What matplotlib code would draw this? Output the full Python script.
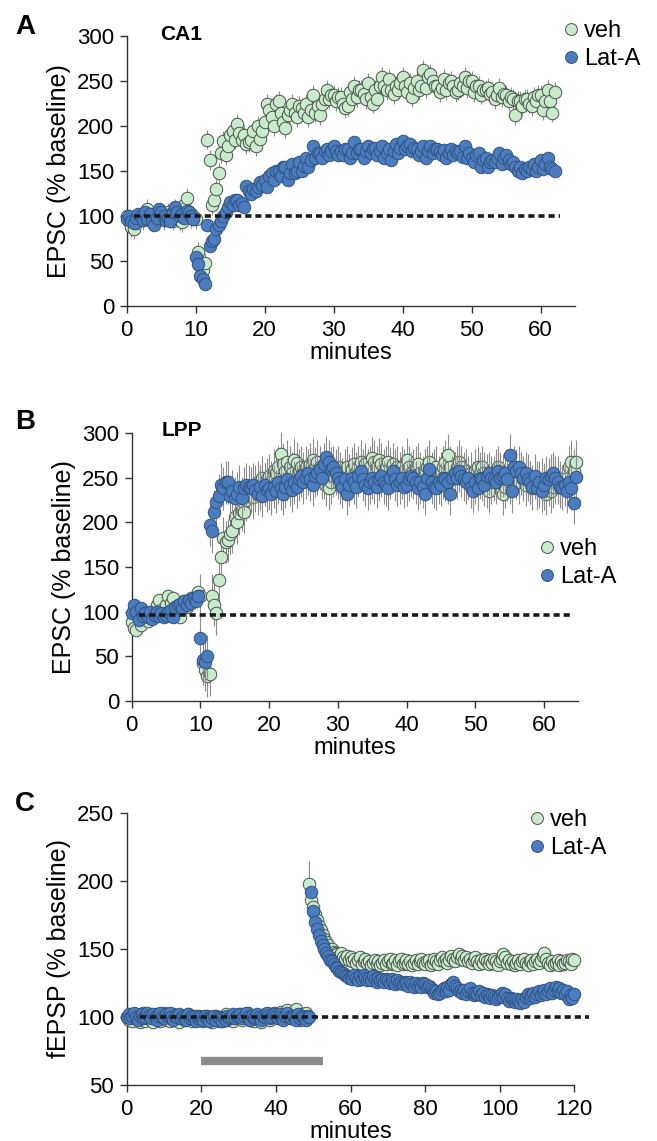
import numpy as np
import matplotlib
matplotlib.use("Agg")
import matplotlib.pyplot as plt

plt.rcParams['font.family'] = ['Liberation Sans', 'DejaVu Sans']

# ---- panel A: CA1, EPSC (% baseline), sampled every 20 s ----
a_veh = [
    100, 95, 88,   86, 92, 97,    100, 96, 104,  108, 98, 94,   99, 103, 97,
    102, 96, 100,  104, 98, 95,   108, 100, 96,  93, 112, 120,  104, 98, 100,
    97, 60, 45,    40, 48, 185,   162, 112, 118, 130, 148, 170, 183, 168, 178,
    190, 195, 185, 202, 192, 185, 190, 180, 182, 185, 195, 178, 200, 186, 195,
    205, 225, 218, 210, 200, 225, 228, 215, 205, 198, 212, 218, 225, 215, 210,
    222, 220, 215, 225, 210, 218, 235, 215, 222, 212, 225, 230, 240, 230, 235,
    235, 228, 232, 232, 225, 220, 222, 238, 230, 245, 232, 240, 240, 236, 230,
    248, 232, 225, 240, 230, 245, 255, 245, 240, 252, 240, 236, 245, 240, 248,
    255, 245, 238, 248, 232, 242, 250, 240, 245, 262, 242, 255, 258, 250, 245,
    245, 238, 242, 252, 240, 248, 250, 245, 238, 240, 248, 244, 255, 242, 250,
    250, 238, 245, 245, 235, 240, 240, 242, 236, 238, 230, 235, 242, 232, 236,
    235, 228, 232, 230, 212, 228, 228, 222, 230, 230, 225, 222, 232, 228, 235,
    235, 218, 228, 240, 228, 215, 238,
]
a_lat = [
    97, 100, 94,   92, 98, 102,   100, 96, 104,  97, 102, 94,   90, 98, 108,
    105, 100, 96,  98, 94, 104,   110, 105, 100, 102, 98, 106,  105, 100, 97,
    55, 47, 33,    30, 24, 90,    67, 72, 75,    86, 90, 94,    100, 105, 110,
    116, 112, 118, 118, 112, 115, 110, 133, 128, 125, 130, 128, 132, 138, 135,
    140, 132, 145, 148, 140, 150, 150, 145, 155, 155, 140, 148, 158, 148, 150,
    160, 150, 156, 165, 155, 162, 178, 165, 170, 170, 165, 172, 175, 168, 172,
    178, 172, 168, 172, 168, 175, 175, 165, 170, 182, 170, 175, 175, 165, 172,
    178, 170, 174, 176, 168, 172, 178, 165, 170, 175, 162, 172, 180, 170, 176,
    183, 175, 178, 180, 172, 176, 175, 168, 172, 178, 165, 172, 178, 170, 174,
    175, 172, 168, 173, 165, 170, 175, 168, 172, 170, 172, 166, 178, 165, 170,
    165, 160, 168, 170, 155, 162, 165, 155, 160, 162, 160, 165, 170, 158, 165,
    168, 162, 158, 160, 155, 150, 155, 148, 152, 150, 155, 152, 158, 150, 154,
    162, 152, 158, 165, 155, 152, 150,
]
a_sem_veh = 11
a_sem_lat = 5

# ---- panel B: LPP, EPSC (% baseline), sampled every 20 s ----
b_veh = [
    88, 82, 80,    92, 85, 95,    98, 90, 95,    100, 96, 108,  113, 102, 98,
    108, 117, 110, 115, 104, 98,  94, 108, 112,  105, 110, 115, 112, 118, 122,
    118, 42, 35,   28, 30, 118,   108, 98, 135,  161, 182, 178, 180, 187, 190,
    206, 200, 210, 214, 212, 225, 230, 235, 228, 240, 245, 238, 250, 242, 248,
    252, 245, 258, 255, 262, 277, 265, 258, 268, 262, 255, 270, 266, 258, 262,
    255, 262, 258, 265, 270, 260, 268, 262, 255, 250, 242, 238, 245, 252, 258,
    262, 255, 248, 258, 262, 252, 260, 265, 255, 262, 268, 258, 265, 258, 262,
    272, 268, 262, 270, 265, 258, 262, 268, 260, 265, 258, 262, 255, 262, 258,
    270, 262, 255, 258, 262, 265, 255, 250, 258, 262, 268, 255, 258, 262, 250,
    255, 262, 268, 275, 262, 250, 255, 262, 268, 262, 255, 258, 250, 255, 245,
    258, 262, 255, 262, 255, 240, 235, 245, 250, 258, 262, 255, 232, 240, 250,
    245, 255, 262, 250, 245, 255, 248, 242, 252, 245, 238, 250, 245, 240, 248,
    238, 232, 242, 235, 240, 245, 250, 245, 240, 245, 250, 262, 268, 258, 268,
]
b_lat = [
    98, 108, 100,  91, 104, 95,   98, 94, 100,   92, 96, 100,   95, 98, 94,
    96, 100, 102,  94, 105, 108,  109, 104, 112, 108, 113, 110, 115, 112, 117,
    70, 46, 44,    50, 197, 190,  212, 223, 230, 242, 238, 245, 245, 229, 235,
    227, 232, 240, 227, 238, 242, 240, 238, 242, 236, 232, 240, 230, 242, 236,
    238, 232, 240, 235, 245, 238, 232, 240, 248, 242, 236, 245, 240, 248, 252,
    245, 250, 255, 248, 242, 252, 255, 260, 250, 265, 273, 268, 260, 262, 255,
    250, 245, 240, 248, 232, 242, 250, 245, 240, 252, 258, 248, 242, 238, 245,
    250, 245, 240, 248, 252, 245, 242, 238, 250, 258, 248, 242, 245, 250, 240,
    242, 248, 252, 250, 245, 238, 245, 240, 232, 250, 260, 245, 240, 238, 245,
    242, 250, 248, 245, 232, 250, 255, 250, 258, 252, 248, 245, 250, 240, 235,
    245, 238, 250, 248, 242, 252, 255, 250, 248, 245, 258, 250, 252, 255, 248,
    275, 235, 262, 258, 262, 255, 250, 255, 248, 245, 240, 252, 238, 245, 235,
    242, 250, 248, 252, 255, 250, 245, 240, 238, 242, 235, 245, 238, 222, 251,
]
b_sem_base = 6
b_sem_post = 24

# ---- panel C: fEPSP (% baseline), sampled every 30 s ----
c_veh = [
    100, 98, 101, 97, 99, 102, 98, 96, 100, 103,
    97, 99, 101, 98, 96, 100, 102, 99, 97, 101,
    103, 98, 100, 97, 99, 102, 100, 98, 96, 99,
    101, 98, 100, 102, 99, 97, 100, 101, 98, 99,
    100, 97, 99, 101, 98, 100, 96, 99, 101, 98,
    97, 100, 99, 102, 98, 100, 101, 97, 99, 100,
    102, 99, 98, 101, 100, 103, 98, 100, 97, 99,
    101, 98, 96, 100, 102, 99, 101, 98, 100, 103,
    100, 102, 99, 104, 101, 100, 105, 102, 99, 101,
    104, 106, 100, 98, 102, 99, 103, 100, 198, 186,
    181, 176, 171, 167, 164, 160, 157, 155, 153, 150,
    150, 148, 147, 146, 145, 147, 144, 143, 145, 142,
    144, 141, 143, 140, 142, 144, 139, 141, 143, 140,
    141, 138, 140, 142, 139, 141, 138, 140, 142, 139,
    141, 143, 139, 140, 142, 138, 141, 143, 139, 140,
    142, 139, 141, 138, 140, 142, 139, 141, 143, 140,
    139, 141, 142, 138, 140, 143, 141, 139, 142, 144,
    141, 143, 140, 142, 145, 143, 141, 144, 146, 143,
    145, 142, 144, 141, 143, 140, 142, 144, 141, 139,
    142, 140, 143, 141, 139, 142, 140, 143, 141, 138,
    141, 143, 146, 144, 140, 142, 139, 141, 138, 140,
    142, 139, 141, 143, 140, 138, 141, 142, 139, 141,
    143, 140, 142, 145, 147, 143, 140, 138, 141, 139,
    140, 142, 138, 141, 139, 140, 142, 141, 139, 143,
    142,
]
c_lat = [
    100, 102, 99, 101, 103, 100, 98, 101, 102, 99,
    100, 103, 101, 99, 102, 100, 98, 101, 103, 100,
    99, 102, 101, 103, 100, 98, 101, 100, 102, 99,
    101, 100, 98, 102, 99, 101, 100, 97, 99, 101,
    100, 98, 101, 99, 97, 100, 99, 101, 98, 100,
    99, 97, 100, 98, 101, 99, 100, 102, 99, 101,
    100, 102, 99, 101, 103, 100, 98, 101, 99, 100,
    102, 100, 98, 101, 100, 103, 101, 99, 100, 102,
    101, 99, 102, 100, 98, 101, 103, 100, 99, 101,
    100, 98, 102, 99, 101, 100, 98, 101, 100, 192,
    178, 170, 165, 160, 156, 153, 150, 147, 145, 142,
    141, 139, 137, 136, 134, 133, 132, 131, 130, 129,
    130, 128, 131, 129, 127, 130, 128, 131, 129, 127,
    129, 127, 130, 128, 126, 129, 127, 128, 126, 128,
    127, 125, 128, 126, 124, 127, 125, 126, 124, 126,
    125, 123, 126, 124, 122, 125, 123, 124, 122, 125,
    124, 122, 123, 121, 120, 118, 119, 117, 118, 120,
    121, 119, 122, 120, 124, 126, 123, 121, 119, 120,
    118, 120, 117, 119, 121, 118, 116, 118, 117, 119,
    116, 118, 115, 117, 116, 114, 116, 115, 113, 115,
    116, 118, 115, 117, 114, 112, 114, 113, 111, 113,
    112, 110, 113, 111, 115, 117, 114, 116, 118, 115,
    117, 119, 116, 118, 120, 117, 119, 121, 118, 120,
    122, 119, 121, 118, 120, 117, 119, 113, 116, 114,
    117,
]
c_sem = 3
c_sem_peak = 17

VEH_FACE = '#c8ebcb'
VEH_EDGE = '#4a524c'
LAT_FACE = '#4a7cbf'
LAT_EDGE = '#30537f'
ERR = '#8c8c8c'
MS = 9

fig = plt.figure(figsize=(6.57, 11.41), dpi=100)
W, H = 657.0, 1141.0


def rect(x0, y_bottom, w, h):
    return [x0 / W, 1 - y_bottom / H, w / W, h / H]


def style(ax, xmax, ymin, ymax, xticks, ystep):
    ax.set_xlim(0, xmax)
    ax.set_ylim(ymin, ymax)
    for s in ['top', 'right']:
        ax.spines[s].set_visible(False)
    for s in ['left', 'bottom']:
        ax.spines[s].set_color('#333333')
        ax.spines[s].set_linewidth(1.0)
    ax.set_xticks(xticks)
    ax.set_yticks(np.arange(ymin, ymax + 1, ystep))
    ax.tick_params(axis='both', direction='out', length=5, width=1,
                   color='#333333', labelsize=16)
    ax.tick_params(axis='x', pad=5)
    ax.tick_params(axis='y', pad=4)
    ax.set_xlabel('minutes', fontsize=17, labelpad=0.5)


def draw(ax, t, veh, lat, e_veh, e_lat):
    ax.errorbar(t, veh, yerr=e_veh, fmt='none', ecolor=ERR, elinewidth=0.8,
                zorder=2, clip_on=False)
    hv, = ax.plot(t, veh, 'o', ms=MS, mfc=VEH_FACE, mec=VEH_EDGE, mew=0.7,
                  zorder=3, clip_on=False, label='veh')
    ax.errorbar(t, lat, yerr=e_lat, fmt='none', ecolor=ERR, elinewidth=0.8,
                zorder=4, clip_on=False)
    hl, = ax.plot(t, lat, 'o', ms=MS, mfc=LAT_FACE, mec=LAT_EDGE, mew=0.7,
                  zorder=5, clip_on=False, label='Lat-A')
    return hv, hl


def legend(ax, handles, x, y):
    ax.legend(handles=handles, loc='upper left', bbox_to_anchor=(x / W, 1 - y / H),
              bbox_transform=fig.transFigure, frameon=False, fontsize=17,
              handlelength=0.55, handletextpad=0.25, labelspacing=0.25,
              borderpad=0, borderaxespad=0, markerscale=0.95)


# ---- A ----
axA = fig.add_axes(rect(126.7, 306, 448.5, 270))
tA = np.arange(len(a_veh)) / 3.0
vA = np.array(a_veh, float)
lA = np.array(a_lat, float)
hv, hl = draw(axA, tA, vA, lA, a_sem_veh, a_sem_lat)
axA.plot([1, 62.8], [100, 100], ls=(0, (1.7, 1.1)), lw=2.6, color='#1a1a1a', zorder=6)
style(axA, 65, 0, 300, np.arange(0, 61, 10), 50)
axA.set_ylabel('EPSC (% baseline)', fontsize=18, labelpad=4)
legend(axA, [hv, hl], 565, 20)
fig.text(160 / W, 1 - 35 / H, 'CA1', fontsize=15, fontweight='bold', va='center')
fig.text(15 / W, 1 - 27 / H, 'A', fontsize=20, fontweight='bold', va='center')

# ---- B ----
axB = fig.add_axes(rect(131.7, 701, 446.6, 268))
tB = np.arange(len(b_veh)) / 3.0
vB = np.array(b_veh, float)
lB = np.array(b_lat, float)
eB = np.where(tB < 10, b_sem_base, b_sem_post)
hv, hl = draw(axB, tB, vB, lB, eB, eB)
axB.plot([1, 64.2], [96, 96], ls=(0, (1.7, 1.1)), lw=2.6, color='#1a1a1a', zorder=6)
style(axB, 65, 0, 300, np.arange(0, 61, 10), 50)
axB.set_ylabel('EPSC (% baseline)', fontsize=18, labelpad=4)
legend(axB, [hv, hl], 541, 538)
fig.text(162 / W, 1 - 431 / H, 'LPP', fontsize=15, fontweight='bold', va='center')
fig.text(15 / W, 1 - 422 / H, 'B', fontsize=20, fontweight='bold', va='center')

# ---- C ----
axC = fig.add_axes(rect(126.7, 1085, 447.6, 272))
tC = np.arange(len(c_veh)) / 2.0
vC = np.array(c_veh, float)
lC = np.array(c_lat, float)
eCv = np.full(len(vC), c_sem, float)
eCv[np.argmax(vC)] = c_sem_peak
eCl = np.full(len(lC), c_sem, float)
hv, hl = draw(axC, tC, vC, lC, eCv, eCl)
axC.plot([3.6, 124], [100, 100], ls=(0, (1.7, 1.1)), lw=2.6, color='#1a1a1a',
         zorder=6, clip_on=False)
axC.plot([20, 52.5], [67.5, 67.5], lw=6, color='#8c8c8c', solid_capstyle='butt', zorder=1)
style(axC, 120, 50, 250, np.arange(0, 121, 20), 50)
axC.set_ylabel('fEPSP (% baseline)', fontsize=18, labelpad=4)
legend(axC, [hv, hl], 531, 809)
fig.text(15 / W, 1 - 804 / H, 'C', fontsize=20, fontweight='bold', va='center')

fig.savefig('out.png', dpi=100)
